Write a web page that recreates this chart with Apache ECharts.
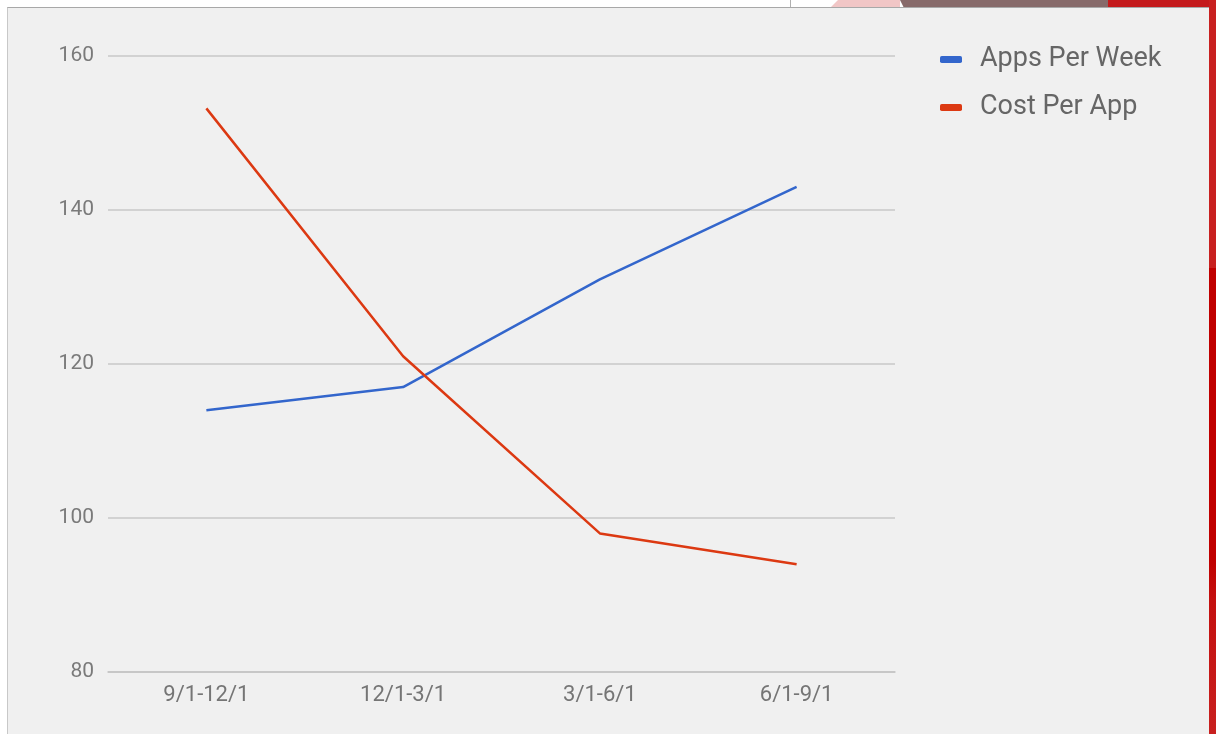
<!DOCTYPE html>
<html>
<head>
<meta charset="utf-8">
<script src="https://cdn.jsdelivr.net/npm/echarts@6/dist/echarts.min.js"></script>
<style>
  html, body { margin: 0; padding: 0; background: #ffffff; width: 1216px; height: 734px; overflow: hidden; }
  #deco1 { position: absolute; left: 790px; top: 0; width: 1px; height: 8px; background: #b0b0b0; }
  #deco2 { position: absolute; left: 830px; top: 0; width: 70px; height: 8px; background: #f1c6c6; clip-path: polygon(8px 0, 100% 0, 100% 100%, 0 100%); }
  #deco3 { position: absolute; left: 888px; top: 0; width: 222px; height: 8px; background: #876a6a; clip-path: polygon(12px 0, 100% 0, 100% 100%, 16px 100%); }
  #deco4 { position: absolute; left: 1108px; top: 0; width: 108px; height: 8px; background: #c41a1c; }
  #frame { position: absolute; left: 7px; top: 7px; width: 1202px; height: 727px; background: #f0f0f0; border-top: 1px solid #a8a8a8; border-left: 1px solid #c8c8c8; box-sizing: border-box; }
  #redbar { position: absolute; left: 1209px; top: 0; width: 7px; height: 734px; background: linear-gradient(#c8201f, #c8201f 268px, #c00000 268px, #c00000 560px, #c4100f 600px, #c8201f); }
  #chart { position: absolute; left: 0; top: 0; width: 1216px; height: 734px; }
</style>
</head>
<body>
<div id="deco1"></div>
<div id="deco2"></div>
<div id="deco3"></div>
<div id="deco4"></div>
<div id="frame"></div>
<div id="redbar"></div>
<div id="chart"></div>
<script>
const categories = ['9/1-12/1', '12/1-3/1', '3/1-6/1', '6/1-9/1'];
const appsPerWeek = [114, 117, 131, 143];
const costPerApp = [153.2, 121, 98, 94];
const seriesNames = ['Apps Per Week', 'Cost Per App'];

const chart = echarts.init(document.getElementById('chart'), null, { renderer: 'canvas' });
chart.setOption({
  backgroundColor: 'transparent',
  animation: false,
  textStyle: { fontFamily: 'Roboto' },
  grid: { left: 108, right: 321, top: 56, bottom: 62, containLabel: false },
  legend: {
    orient: 'vertical',
    left: 935,
    top: 41,
    itemGap: 21,
    itemWidth: 22,
    itemHeight: 7,
    icon: 'roundRect',
    textStyle: { fontSize: 27, color: '#666666', fontFamily: 'Roboto', padding: [0, 0, 0, 13] },
    data: seriesNames
  },
  xAxis: {
    type: 'category',
    data: categories,
    boundaryGap: true,
    axisLine: { show: true, lineStyle: { color: '#c4c4c4', width: 1.5 } },
    axisTick: { show: false },
    axisLabel: { fontSize: 22, color: '#757575', margin: 12, fontFamily: 'Roboto' }
  },
  yAxis: {
    type: 'value',
    min: 80,
    max: 160,
    interval: 20,
    axisLine: { show: false },
    axisTick: { show: false },
    axisLabel: { fontSize: 21, color: '#7a7a7a', margin: 14, fontFamily: 'Roboto' },
    splitLine: { lineStyle: { color: '#c8c8c8', width: 1.5 } }
  },
  series: [
    {
      name: seriesNames[0],
      type: 'line',
      data: appsPerWeek,
      symbol: 'none',
      color: '#3366cc',
      lineStyle: { width: 2.5, color: '#3366cc' }
    },
    {
      name: seriesNames[1],
      type: 'line',
      data: costPerApp,
      symbol: 'none',
      color: '#dc3912',
      lineStyle: { width: 2.5, color: '#dc3912' }
    }
  ]
});
</script>
</body>
</html>
